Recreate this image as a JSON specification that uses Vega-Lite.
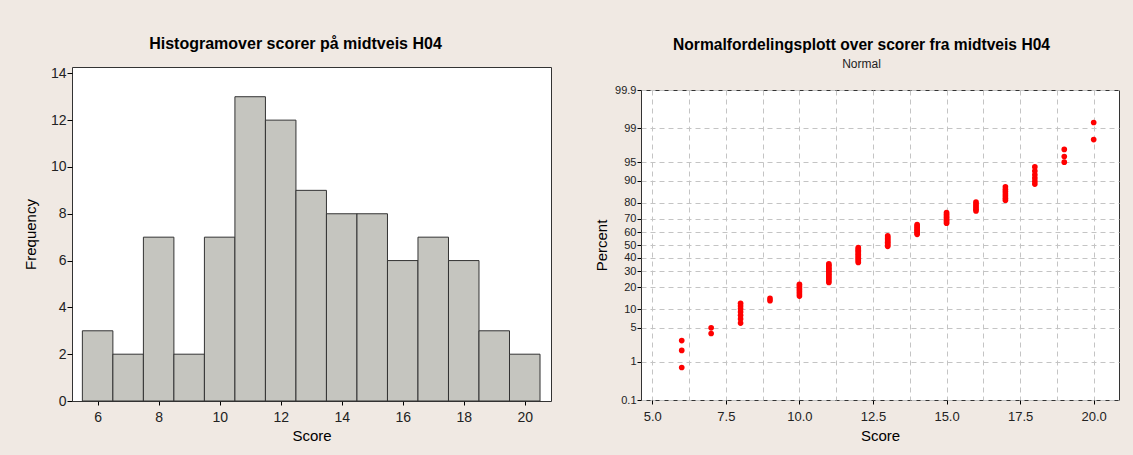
{
  "$schema": "https://vega.github.io/schema/vega-lite/v6.json",
  "background": "#f0e9e3",
  "padding": {"left": 22, "top": 35, "right": 20, "bottom": 20},
  "spacing": 42,
  "config": {
    "font": "Liberation Sans",
    "view": {"fill": "white", "stroke": "#333333", "strokeWidth": 1},
    "axis": {"domain": false, "tickColor": "#000000", "labelColor": "#222222", "titleColor": "#000000", "titleFontWeight": "normal", "titleFontSize": 15, "grid": false},
    "title": {"fontSize": 16, "fontWeight": "bold", "color": "#000000", "subtitleFontSize": 12, "subtitleColor": "#222222", "subtitleFont": "Liberation Sans"}
  },
  "datasets": {
    "hist": [
      {"bin_start": 5.5, "bin_end": 6.5, "count": 3},
      {"bin_start": 6.5, "bin_end": 7.5, "count": 2},
      {"bin_start": 7.5, "bin_end": 8.5, "count": 7},
      {"bin_start": 8.5, "bin_end": 9.5, "count": 2},
      {"bin_start": 9.5, "bin_end": 10.5, "count": 7},
      {"bin_start": 10.5, "bin_end": 11.5, "count": 13},
      {"bin_start": 11.5, "bin_end": 12.5, "count": 12},
      {"bin_start": 12.5, "bin_end": 13.5, "count": 9},
      {"bin_start": 13.5, "bin_end": 14.5, "count": 8},
      {"bin_start": 14.5, "bin_end": 15.5, "count": 8},
      {"bin_start": 15.5, "bin_end": 16.5, "count": 6},
      {"bin_start": 16.5, "bin_end": 17.5, "count": 7},
      {"bin_start": 17.5, "bin_end": 18.5, "count": 6},
      {"bin_start": 18.5, "bin_end": 19.5, "count": 3},
      {"bin_start": 19.5, "bin_end": 20.5, "count": 2}
    ],
    "prob": [
      {"score": 6, "percent": 0.73}, {"score": 6, "percent": 1.78}, {"score": 6, "percent": 2.83},
      {"score": 7, "percent": 3.88}, {"score": 7, "percent": 4.93},
      {"score": 8, "percent": 5.97}, {"score": 8, "percent": 7.02}, {"score": 8, "percent": 8.07}, {"score": 8, "percent": 9.12}, {"score": 8, "percent": 10.17}, {"score": 8, "percent": 11.22}, {"score": 8, "percent": 12.26},
      {"score": 9, "percent": 13.31}, {"score": 9, "percent": 14.36},
      {"score": 10, "percent": 15.41}, {"score": 10, "percent": 16.46}, {"score": 10, "percent": 17.51}, {"score": 10, "percent": 18.55}, {"score": 10, "percent": 19.6}, {"score": 10, "percent": 20.65}, {"score": 10, "percent": 21.7},
      {"score": 11, "percent": 22.75}, {"score": 11, "percent": 23.79}, {"score": 11, "percent": 24.84}, {"score": 11, "percent": 25.89}, {"score": 11, "percent": 26.94}, {"score": 11, "percent": 27.99}, {"score": 11, "percent": 29.04}, {"score": 11, "percent": 30.08}, {"score": 11, "percent": 31.13}, {"score": 11, "percent": 32.18}, {"score": 11, "percent": 33.23}, {"score": 11, "percent": 34.28}, {"score": 11, "percent": 35.32},
      {"score": 12, "percent": 36.37}, {"score": 12, "percent": 37.42}, {"score": 12, "percent": 38.47}, {"score": 12, "percent": 39.52}, {"score": 12, "percent": 40.57}, {"score": 12, "percent": 41.61}, {"score": 12, "percent": 42.66}, {"score": 12, "percent": 43.71}, {"score": 12, "percent": 44.76}, {"score": 12, "percent": 45.81}, {"score": 12, "percent": 46.86}, {"score": 12, "percent": 47.9},
      {"score": 13, "percent": 48.95}, {"score": 13, "percent": 50.0}, {"score": 13, "percent": 51.05}, {"score": 13, "percent": 52.1}, {"score": 13, "percent": 53.14}, {"score": 13, "percent": 54.19}, {"score": 13, "percent": 55.24}, {"score": 13, "percent": 56.29}, {"score": 13, "percent": 57.34},
      {"score": 14, "percent": 58.39}, {"score": 14, "percent": 59.43}, {"score": 14, "percent": 60.48}, {"score": 14, "percent": 61.53}, {"score": 14, "percent": 62.58}, {"score": 14, "percent": 63.63}, {"score": 14, "percent": 64.68}, {"score": 14, "percent": 65.72},
      {"score": 15, "percent": 66.77}, {"score": 15, "percent": 67.82}, {"score": 15, "percent": 68.87}, {"score": 15, "percent": 69.92}, {"score": 15, "percent": 70.96}, {"score": 15, "percent": 72.01}, {"score": 15, "percent": 73.06}, {"score": 15, "percent": 74.11},
      {"score": 16, "percent": 75.16}, {"score": 16, "percent": 76.21}, {"score": 16, "percent": 77.25}, {"score": 16, "percent": 78.3}, {"score": 16, "percent": 79.35}, {"score": 16, "percent": 80.4},
      {"score": 17, "percent": 81.45}, {"score": 17, "percent": 82.49}, {"score": 17, "percent": 83.54}, {"score": 17, "percent": 84.59}, {"score": 17, "percent": 85.64}, {"score": 17, "percent": 86.69}, {"score": 17, "percent": 87.74},
      {"score": 18, "percent": 88.78}, {"score": 18, "percent": 89.83}, {"score": 18, "percent": 90.88}, {"score": 18, "percent": 91.93}, {"score": 18, "percent": 92.98}, {"score": 18, "percent": 94.03},
      {"score": 19, "percent": 95.07}, {"score": 19, "percent": 96.12}, {"score": 19, "percent": 97.17},
      {"score": 20, "percent": 98.22}, {"score": 20, "percent": 99.27}
    ]
  },
  "hconcat": [
    {
      "data": {"name": "hist"},
      "width": 479,
      "height": 334,
      "title": {"text": "Histogramover scorer på midtveis H04", "frame": "group", "dx": -16, "offset": 14},
      "mark": {"type": "bar", "fill": "#c5c5bf", "stroke": "#333333", "strokeWidth": 1},
      "encoding": {
        "x": {
          "field": "bin_start", "type": "quantitative",
          "scale": {"domain": [5.16, 20.86], "nice": false, "zero": false},
          "axis": {"title": "Score", "values": [6, 8, 10, 12, 14, 16, 18, 20], "tickSize": 4, "labelPadding": 5, "labelFontSize": 14, "titlePadding": 4}
        },
        "x2": {"field": "bin_end"},
        "y": {
          "field": "count", "type": "quantitative",
          "scale": {"domain": [0, 14.27], "nice": false},
          "axis": {"title": "Frequency", "values": [0, 2, 4, 6, 8, 10, 12, 14], "tickSize": 5, "labelPadding": 1, "labelFontSize": 14, "titlePadding": 12}
        },
        "y2": {"datum": 0}
      }
    },
    {
      "spacing": 13,
      "vconcat": [
        {
          "data": {"values": []},
          "width": 478,
          "height": 1,
          "view": {"stroke": null, "fill": null},
          "title": {"text": "Normalfordelingsplott over scorer fra midtveis H04", "subtitle": "Normal", "fontSize": 15.6, "frame": "group", "dx": -18.5, "offset": -2.5, "subtitlePadding": 5},
          "mark": "point",
          "encoding": {}
        },
        {
          "data": {"name": "prob"},
          "transform": [{"calculate": "quantileNormal(datum.percent / 100)", "as": "z"}],
          "width": 478,
          "height": 310,
          "mark": {"type": "point", "filled": true, "color": "#ff0000", "size": 32, "opacity": 1},
          "encoding": {
            "x": {
              "field": "score", "type": "quantitative",
              "scale": {"domain": [4.616, 20.86], "nice": false, "zero": false},
              "axis": {
                "title": "Score",
                "values": [5, 6.25, 7.5, 8.75, 10, 11.25, 12.5, 13.75, 15, 16.25, 17.5, 18.75, 20],
                "labelExpr": "datum.value % 2.5 == 0 ? format(datum.value, '.1f') : ''",
                "tickOpacity": {"condition": {"test": "datum.value % 2.5 == 0", "value": 1}, "value": 0},
                "tickSize": 4, "labelPadding": 6, "labelFontSize": 13, "titlePadding": 5,
                "grid": true, "gridColor": "#c4c4c4", "gridDash": [5, 4], "gridWidth": 1
              }
            },
            "y": {
              "field": "z", "type": "quantitative",
              "scale": {"domain": [-3.0902, 3.0902], "nice": false, "zero": false},
              "axis": {
                "title": "Percent",
                "values": [-3.0902, -2.3263, -1.6449, -1.2816, -0.8416, -0.5244, -0.2533, 0, 0.2533, 0.5244, 0.8416, 1.2816, 1.6449, 2.3263, 3.0902],
                "labelExpr": "'' + round(cumulativeNormal(datum.value) * 1000) / 10",
                "tickSize": 4, "labelPadding": 1, "labelFontSize": 11, "titlePadding": 5,
                "grid": true, "gridColor": "#c4c4c4", "gridDash": [5, 4], "gridWidth": 1
              }
            }
          }
        }
      ]
    }
  ]
}
